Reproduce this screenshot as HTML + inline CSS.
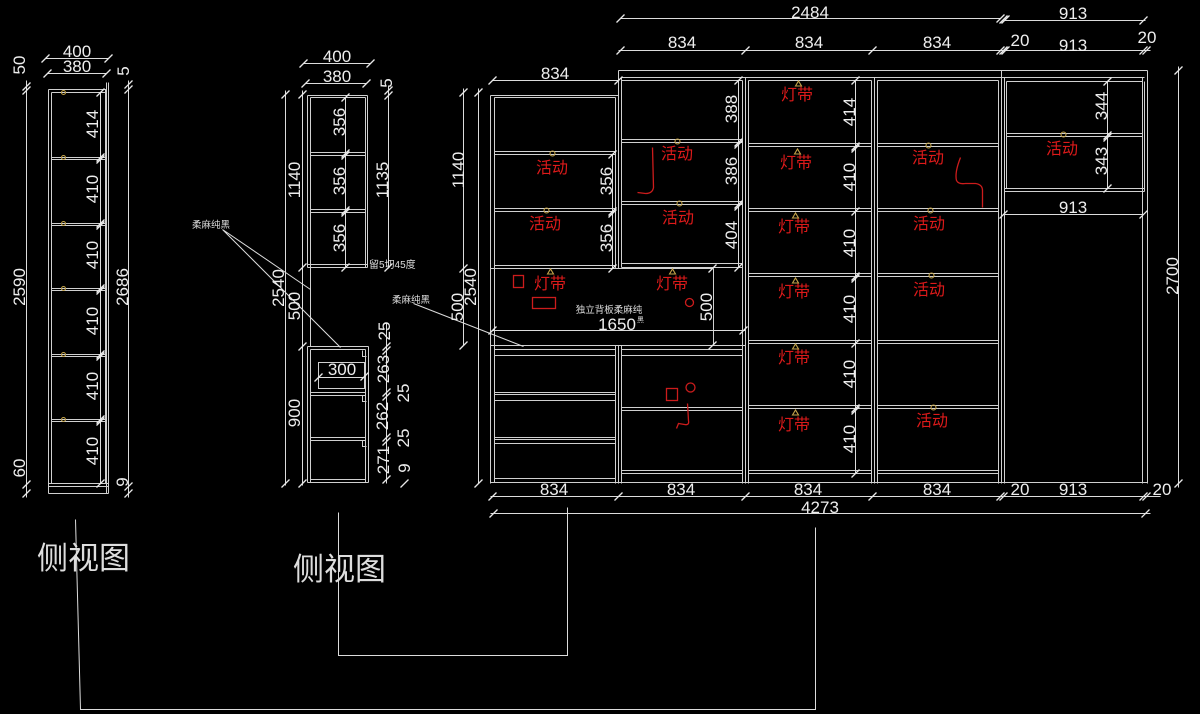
<!DOCTYPE html>
<html><head><meta charset="utf-8"><style>
html,body{margin:0;padding:0;background:#000;}
svg{display:block}
text{font-family:"Liberation Sans","Noto Sans CJK SC",sans-serif;}
</style></head><body>
<svg width="1200" height="714" viewBox="0 0 1200 714" xmlns="http://www.w3.org/2000/svg">
<rect width="1200" height="714" fill="#000"/>
<g transform="translate(0.5,0.5)" fill="none" stroke-width="1">
<!-- ===== structure lines ===== -->
<path stroke="#d0d0d0" d="
M48 89V493 M51 92V483 M105 89V483 M106 82V493 M108 82V493
M48 89H106 M51 92H105
M51 157H106 M51 159H106 M51 223H106 M51 225H106 M51 288H106 M51 290H106
M51 354H106 M51 356H106 M51 419H106 M51 421H106
M48 483H108 M48 486H108 M48 493H108
M307 95H367 M310 97H365 M307 95V267 M310 97V267 M365 97V267 M367 95V267
M310 152H365 M310 155H365 M310 209H365 M310 212H365 M307 264H367 M307 267H367
M310 267V346
M307 346H368 M310 349H365 M307 346V482 M310 349V482 M365 349V482 M368 346V482 M307 482H368 M310 479H365
M310 392H365 M310 395H365 M310 437H365 M310 440H365
M362 350V356H366 M362 395V401H366 M362 440V446H366
M318 362H364V388H318Z
M490 95V483 M494 97V482 M490 95H618 M494 97H615
M615 97V268 M618 70V268
M494 151H615 M494 154H615 M494 208H615 M494 211H615 M494 265H615 M490 268H713
M621 77V267 M618 70H1147 M621 77H1144 M621 80H742
M621 139H742 M621 142H742 M621 201H742 M621 204H742 M621 263H742 M621 267H742
M742 80V483 M745 77V483 M748 80V483
M713 268V345
M490 345H745 M494 349H615 M494 355H615 M621 349H742 M621 355H742
M615 345V483 M618 345V483 M621 345V483
M494 392H615 M494 394H615 M494 400H615 M494 437H615 M494 439H615 M494 443H615 M494 478H615
M621 407H742 M621 410H742 M621 470H742 M621 473H742
M490 482H1147
M748 80H871 M871 80V483 M874 77V483 M877 80V483
M748 143H871 M748 146H871 M748 208H871 M748 211H871 M748 273H871 M748 276H871
M748 340H871 M748 343H871 M748 405H871 M748 408H871 M748 470H871 M748 473H871
M877 80H998 M998 80V483 M1001 70V483 M1004 77V483
M877 143H998 M877 146H998 M877 208H998 M877 211H998 M877 273H998 M877 276H998
M877 340H998 M877 343H998 M877 405H998 M877 408H998 M877 470H998 M877 473H998
M1006 81V188 M1142 77V483 M1147 70V483 M1144 81V191
M1004 77H1144 M1006 81H1142 M1006 133H1142 M1006 136H1142 M1004 188H1144 M1004 191H1144
"/>
<!-- ===== dimension lines ===== -->
<path stroke="#dcdcdc" d="
M45 58H108 M47 73H106 M100 92V483 M26 80V497 M128 80V497
M303 63H370 M305 83H366 M345 97V267 M285 90V485 M302 90V485 M388 85V267 M386 322V483 M318 377H364
M620 18H1000 M1003 20H1145 M618 50H1150 M492 80H618 M463 88V345 M478 88V483
M612 154V268 M738 80V267 M491 330H745 M855 80V473 M1107 81V188 M1003 214H1143 M1178 66V487
M490 496H1160 M490 513H1150
M75 519L80 709H815V527 M338 512V655H567V507
M222 229L340 347 M222 229L310 289 M413 303L523 346
"/>
<!-- ===== ticks ===== -->
<path stroke="#e8e8e8" stroke-width="1.3" d="
M41 62l8-8 M104 62l8-8 M43 77l8-8 M102 77l8-8
M96 96l8-8 M96 161l8-8 M96 163l8-8 M96 227l8-8 M96 229l8-8 M96 292l8-8 M96 294l8-8 M96 358l8-8 M96 360l8-8 M96 423l8-8 M96 425l8-8 M96 487l8-8
M22 90l8-8 M22 94l8-8 M22 488l8-8 M22 497l8-8
M124 88l8-8 M124 93l8-8 M124 490l8-8 M124 497l8-8
M299 67l8-8 M366 67l8-8 M301 87l8-8 M362 87l8-8
M341 101l8-8 M341 157l8-8 M341 159l8-8 M341 214l8-8 M341 216l8-8 M341 271l8-8
M281 98l8-8 M298 98l8-8 M298 271l8-8 M298 350l8-8 M281 487l8-8 M298 487l8-8
M384 94l8-8 M384 99l8-8 M384 271l8-8
M382 350l8-8 M382 354l8-8 M382 396l8-8 M382 400l8-8 M382 441l8-8 M382 445l8-8 M382 483l8-8 M400 487l8-8
M314 381l8-8 M360 380l8-8
M616 22l8-8 M996 22l8-8 M999 23l8-8 M1001 23l8-8 M1139 24l8-8
M616 54l8-8 M741 54l8-8 M868 54l8-8 M996 54l8-8 M999 54l8-8 M1001 54l8-8 M1139 54l8-8 M1142 54l8-8
M488 84l8-8 M614 84l8-8
M459 96l8-8 M474 96l8-8 M459 272l8-8 M459 349l8-8 M474 487l8-8
M608 158l8-8 M608 215l8-8 M608 217l8-8 M608 272l8-8
M734 84l8-8 M734 146l8-8 M734 148l8-8 M734 208l8-8 M734 210l8-8 M734 271l8-8
M488 334l8-8 M739 334l8-8 M708 272l8-8 M708 349l8-8
M851 84l8-8 M851 150l8-8 M851 152l8-8 M851 215l8-8 M851 280l8-8 M851 282l8-8 M851 347l8-8 M851 412l8-8 M851 414l8-8 M851 477l8-8
M1103 85l8-8 M1103 139l8-8 M1103 141l8-8 M1103 192l8-8
M999 218l8-8 M1139 218l8-8 M1174 74l8-8 M1174 487l8-8
M488 500l8-8 M614 500l8-8 M741 500l8-8 M868 500l8-8 M996 500l8-8 M999 500l8-8 M1139 500l8-8 M1142 500l8-8
M489 517l8-8 M1141 517l8-8
"/>
<!-- ===== red marks ===== -->
<g stroke="#cc1c1c" stroke-width="1.3">
<rect x="513" y="275" width="10" height="12"/>
<rect x="532" y="297" width="23" height="11"/>
<circle cx="689" cy="302" r="4"/>
<rect x="666" y="388" width="11" height="12"/>
<circle cx="690" cy="387" r="4.5"/>
<path d="M687 403L688 420Q689 425 684 424L678 423L676 428"/>
<path d="M652 147L653 187Q652 193 645 193L637 192"/>
<path d="M960 157Q954 172 956 180Q958 184 965 183L975 183Q982 184 982 190L982 207"/>
</g>
<!-- ===== olive markers ===== -->
<g stroke="#c4a44a" stroke-width="1.1">
<circle cx="63" cy="92" r="2"/><circle cx="63" cy="157" r="2"/><circle cx="63" cy="223" r="2"/>
<circle cx="63" cy="288" r="2"/><circle cx="63" cy="354" r="2"/><circle cx="63" cy="419" r="2"/>
<circle cx="552" cy="153" r="2.5"/><circle cx="546" cy="210" r="2.5"/><circle cx="677" cy="141" r="2.5"/>
<circle cx="679" cy="203" r="2.5"/><circle cx="928" cy="145" r="2.5"/><circle cx="930" cy="210" r="2.5"/>
<circle cx="931" cy="275" r="2.5"/><circle cx="933" cy="407" r="2.5"/><circle cx="1063" cy="134" r="2.5"/>
<path d="M547 273.5L550 268.5L553 273.5Z M669 273.5L672 268.5L675 273.5Z M795 85.5L798 80.5L801 85.5Z M794 153.5L797 148.5L800 153.5Z M792 217.5L795 212.5L798 217.5Z M792 282.5L795 277.5L798 282.5Z M792 348.5L795 343.5L798 348.5Z M792 414.5L795 409.5L798 414.5Z"/>
</g>
</g>

<!-- ===== white dimension text ===== -->
<g fill="#eeeeee" font-size="17" text-anchor="middle">
<text x="77" y="57">400</text><text x="77" y="72">380</text>
<text x="337" y="62">400</text><text x="337" y="82">380</text><text x="342" y="375">300</text>
<text x="810" y="18">2484</text><text x="1073" y="19">913</text>
<text x="682" y="48">834</text><text x="809" y="48">834</text><text x="937" y="48">834</text>
<text x="1020" y="46">20</text><text x="1073" y="51">913</text><text x="1147" y="43">20</text>
<text x="555" y="79">834</text><text x="617" y="330">1650</text><text x="1073" y="213">913</text>
<text x="554" y="495">834</text><text x="681" y="495">834</text><text x="808" y="495">834</text><text x="937" y="495">834</text>
<text x="1020" y="495">20</text><text x="1073" y="495">913</text><text x="1162" y="495">20</text>
<text x="820" y="513">4273</text>

<text transform="translate(25,65) rotate(-90)">50</text>
<text transform="translate(25,287) rotate(-90)">2590</text>
<text transform="translate(25,468) rotate(-90)">60</text>
<text transform="translate(98,124) rotate(-90)">414</text>
<text transform="translate(98,189) rotate(-90)">410</text>
<text transform="translate(98,255) rotate(-90)">410</text>
<text transform="translate(98,321) rotate(-90)">410</text>
<text transform="translate(98,386) rotate(-90)">410</text>
<text transform="translate(98,451) rotate(-90)">410</text>
<text transform="translate(129,71) rotate(-90)">5</text>
<text transform="translate(128,287) rotate(-90)">2686</text>
<text transform="translate(128,482) rotate(-90)">9</text>

<text transform="translate(345,122) rotate(-90)">356</text>
<text transform="translate(345,181) rotate(-90)">356</text>
<text transform="translate(345,238) rotate(-90)">356</text>
<text transform="translate(300,180) rotate(-90)">1140</text>
<text transform="translate(388,180) rotate(-90)">1135</text>
<text transform="translate(392,83) rotate(-90)">5</text>
<text transform="translate(284,288) rotate(-90)">2540</text>
<text transform="translate(300,306) rotate(-90)">500</text>
<text transform="translate(300,413) rotate(-90)">900</text>
<text transform="translate(390,331) rotate(-90)">25</text>
<text transform="translate(389,369) rotate(-90)">263</text>
<text transform="translate(409,393) rotate(-90)">25</text>
<text transform="translate(388,416) rotate(-90)">262</text>
<text transform="translate(409,438) rotate(-90)">25</text>
<text transform="translate(389,460) rotate(-90)">271</text>
<text transform="translate(410,468) rotate(-90)">9</text>

<text transform="translate(464,170) rotate(-90)">1140</text>
<text transform="translate(476,287) rotate(-90)">2540</text>
<text transform="translate(463,307) rotate(-90)">500</text>
<text transform="translate(612,181) rotate(-90)">356</text>
<text transform="translate(612,238) rotate(-90)">356</text>
<text transform="translate(737,109) rotate(-90)">388</text>
<text transform="translate(737,171) rotate(-90)">386</text>
<text transform="translate(737,235) rotate(-90)">404</text>
<text transform="translate(712,307) rotate(-90)">500</text>
<text transform="translate(855,112) rotate(-90)">414</text>
<text transform="translate(855,177) rotate(-90)">410</text>
<text transform="translate(855,243) rotate(-90)">410</text>
<text transform="translate(855,309) rotate(-90)">410</text>
<text transform="translate(855,374) rotate(-90)">410</text>
<text transform="translate(855,439) rotate(-90)">410</text>
<text transform="translate(1107,106) rotate(-90)">344</text>
<text transform="translate(1107,161) rotate(-90)">343</text>
<text transform="translate(1178,276) rotate(-90)">2700</text>
</g>

<!-- ===== small labels ===== -->
<g fill="#dddddd">
<text x="192" y="228" font-size="9.5">柔麻纯黑</text>
<text x="392" y="303" font-size="9.5">柔麻纯黑</text>
<text x="369" y="268" font-size="10">留5切45度</text>
<text x="609" y="313" font-size="9.5" text-anchor="middle">独立背板柔麻纯</text>
<text x="637" y="322" font-size="7">黑</text>
<text x="37" y="569" font-size="31">侧视图</text>
<text x="293" y="580" font-size="31">侧视图</text>
</g>

<!-- ===== red labels ===== -->
<g fill="#dd1a1a" font-size="16" text-anchor="middle">
<text x="552" y="173">活动</text><text x="545" y="229">活动</text><text x="550" y="289">灯带</text>
<text x="677" y="159">活动</text><text x="678" y="223">活动</text><text x="672" y="289">灯带</text>
<text x="797" y="100">灯带</text><text x="796" y="168">灯带</text><text x="794" y="232">灯带</text>
<text x="794" y="297">灯带</text><text x="794" y="363">灯带</text><text x="794" y="430">灯带</text>
<text x="928" y="163">活动</text><text x="929" y="229">活动</text><text x="929" y="295">活动</text><text x="932" y="426">活动</text>
<text x="1062" y="154">活动</text>
</g>
</svg>
</body></html>
